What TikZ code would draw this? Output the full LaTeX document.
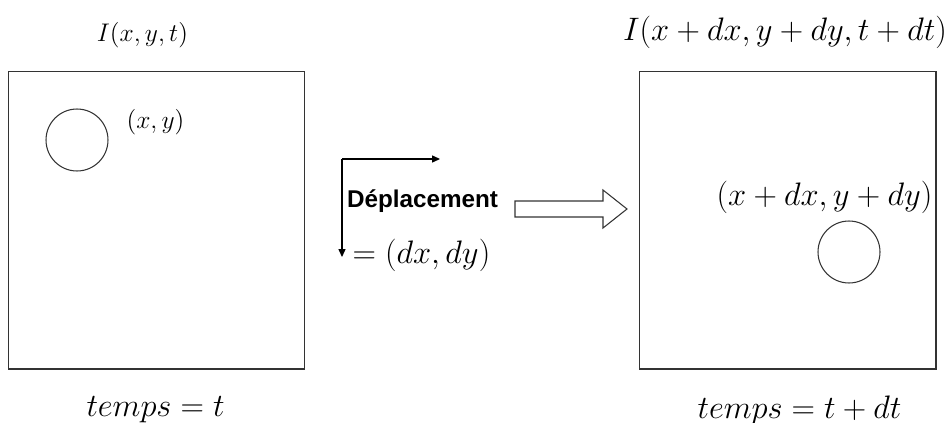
\RequirePackage{fix-cm}
\documentclass[tikz,border=0pt]{standalone}
\usepackage{fontspec}
\setsansfont{Liberation Sans}
\usetikzlibrary{arrows.meta}
\begin{document}
\begin{tikzpicture}[x=0.02cm,y=-0.02cm]
            \tikzset{
                frame/.style={draw=black!80, line width=0.6pt, minimum width=5.94cm, minimum height=5.96cm, inner sep=0},
                blob/.style={draw=black!80, circle, line width=0.6pt, minimum size=1.24cm, inner sep=0},
                biglbl/.style={font=\fontsize{18.5}{22}\selectfont, inner sep=0},
                smalllbl/.style={font=\fontsize{14.5}{17}\selectfont, inner sep=0},
                moveto/.style={-{Triangle[length=4.5pt,width=4pt]}, line width=0.6pt}
            }
            \useasboundingbox (0,0) rectangle (948,423);

            % image at time t
            \draw node[frame] (img1) at (156.5,220) {};
            \draw node[blob] (pt1) at (77,140) {};
            \draw node[smalllbl] (i1) at (142.5,35) {$I(x,y,t)$};
            \draw node[smalllbl] (p1) at (155.5,122.5) {$(x,y)$};
            \draw node[biglbl] (t1) at (155.5,410) {$temps = t$};

            % image at time t+dt
            \draw node[frame] (img2) at (787.5,220) {};
            \draw node[blob] (pt2) at (849,252) {};
            \draw node[biglbl] (i2) at (785,32) {$I(x+dx,y+dy,t+dt)$};
            \draw node[biglbl] (p2) at (824.5,197) {$(x+dx,y+dy)$};
            \draw node[biglbl] (t2) at (799.5,410) {$temps = t+dt$};

            % displacement
            \draw node[font=\sffamily\bfseries\fontsize{13.8}{16}\selectfont, inner sep=0] (dep) at (422.5,201) {Déplacement};
            \draw node[biglbl] (dxy) at (421.5,255) {$= (dx, dy)$};
            \coordinate (corner) at (342,159);
            \coordinate (hend) at (440,159);
            \coordinate (vend) at (342,257);
            \foreach \tip in {hend, vend}{
            \draw[moveto] (corner) -- (\tip);
            }
            \draw[draw=black!80, line width=0.6pt, fill=white] (515,201) -- (603,201) -- (603,190) -- (627,209)
                -- (603,228) -- (603,217) -- (515,217) -- cycle;
        \end{tikzpicture}
\end{document}
